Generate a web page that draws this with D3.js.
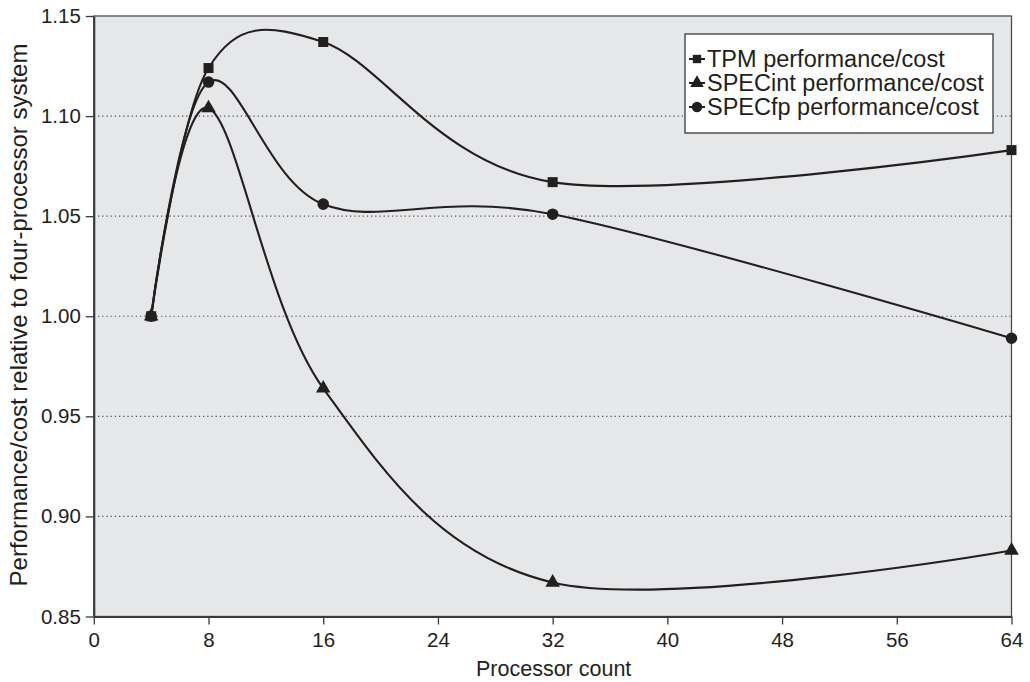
<!DOCTYPE html>
<html>
<head>
<meta charset="utf-8">
<script src="https://cdn.jsdelivr.net/npm/d3@7"></script>
<style>
  html, body { margin: 0; padding: 0; background: #ffffff; }
  svg { display: block; font-family: "Liberation Sans", Arial, Helvetica, sans-serif; }
</style>
</head>
<body>
<svg id="chart" width="1030" height="682"></svg>
<script>
// ---- data ----
const processors = [4, 8, 16, 32, 64];
const tpm     = [1.000, 1.124, 1.137, 1.067, 1.083];
const specInt = [1.000, 1.104, 0.964, 0.867, 0.883];
const specFp  = [1.000, 1.117, 1.056, 1.051, 0.989];
const seriesNames = ["TPM performance/cost", "SPECint performance/cost", "SPECfp performance/cost"];
const seriesMarkers = ["square", "triangle", "circle"];
const xTicks = [0, 8, 16, 24, 32, 40, 48, 56, 64];
const yTicks = [0.85, 0.90, 0.95, 1.00, 1.05, 1.10, 1.15];
const xTitle = "Processor count";
const yTitle = "Performance/cost relative to four-processor system";

const seriesValues = [tpm, specInt, specFp];

(function () {
// ---- layout ----
const svg = d3.select("#chart");
const pLeft = 93.8, pRight = 1011.5, pTop = 16, pBottom = 616.5;
const x = d3.scaleLinear().domain([0, 64]).range([pLeft, pRight]);
const y = d3.scaleLinear().domain([0.85, 1.15]).range([pBottom, pTop]);
const ink = "#231f20";

// plot background
svg.append("rect")
  .attr("x", pLeft).attr("y", pTop)
  .attr("width", pRight - pLeft).attr("height", pBottom - pTop)
  .attr("fill", "#e6e7e8")
  .attr("stroke", "#4d4d4f").attr("stroke-width", 1.3);

// dotted gridlines
svg.append("g").selectAll("line")
  .data(yTicks.filter(d => d > 0.85 && d < 1.15))
  .join("line")
  .attr("x1", pLeft).attr("x2", pRight)
  .attr("y1", d => y(d)).attr("y2", d => y(d))
  .attr("stroke", "#58595b").attr("stroke-width", 1.2)
  .attr("stroke-dasharray", "1.3,2.9");

// axes
const xAxis = d3.axisBottom(x).tickValues(xTicks).tickFormat(d3.format("d"))
  .tickSizeInner(8).tickSizeOuter(0).tickPadding(8);
const yAxis = d3.axisLeft(y).tickValues(yTicks).tickFormat(d3.format(".2f"))
  .tickSizeInner(8).tickSizeOuter(0).tickPadding(5);

const gx = svg.append("g").attr("transform", `translate(0,${pBottom})`).call(xAxis);
const gy = svg.append("g").attr("transform", `translate(${pLeft},0)`).call(yAxis);
[gx, gy].forEach(g => {
  g.select(".domain").attr("stroke", "#3a3a3c").attr("stroke-width", 2);
  g.selectAll(".tick line").attr("stroke", "#3a3a3c").attr("stroke-width", 1.3);
  g.selectAll(".tick text").attr("fill", ink)
    .attr("font-size", 20.5)
    .attr("font-family", "Liberation Sans, Arial, sans-serif");
});

// axis titles
svg.append("text")
  .attr("x", (x(0) + x(64)) / 2 + 1).attr("y", 676)
  .attr("text-anchor", "middle")
  .attr("font-size", 21.5).attr("fill", ink)
  .text(xTitle);
svg.append("text")
  .attr("transform", `translate(27,315) rotate(-90)`)
  .attr("text-anchor", "middle")
  .attr("font-size", 24).attr("fill", ink)
  .text(yTitle);

// lines
const line = d3.line()
  .x(d => x(d[0])).y(d => y(d[1]))
  .curve(d3.curveCardinal.tension(0));

const sym = {
  square: d3.symbol().type(d3.symbolSquare).size(100),
  triangle: d3.symbol().type(d3.symbolTriangle).size(92),
  circle: d3.symbol().type(d3.symbolCircle).size(105)
};
const symSmall = {
  square: d3.symbol().type(d3.symbolSquare).size(70),
  triangle: d3.symbol().type(d3.symbolTriangle).size(80),
  circle: d3.symbol().type(d3.symbolCircle).size(85)
};

const plot = svg.append("g");
seriesValues.forEach((vals, i) => {
  const pts = processors.map((p, j) => [p, vals[j]]);
  plot.append("path")
    .datum(pts)
    .attr("fill", "none")
    .attr("stroke", ink)
    .attr("stroke-width", 2.1)
    .attr("d", line);
});
seriesValues.forEach((vals, i) => {
  const pts = processors.map((p, j) => [p, vals[j]]);
  plot.append("g").selectAll("path")
    .data(pts)
    .join("path")
    .attr("transform", d => `translate(${x(d[0])},${y(d[1])})`)
    .attr("d", sym[seriesMarkers[i]]())
    .attr("fill", ink);
});

// legend
const lg = svg.append("g");
lg.append("rect")
  .attr("x", 685).attr("y", 34)
  .attr("width", 308).attr("height", 99)
  .attr("fill", "#ffffff")
  .attr("stroke", "#3a3a3c").attr("stroke-width", 1.3);
const rowY = [59, 83, 107];
seriesNames.forEach((name, i) => {
  const g = lg.append("g").attr("transform", `translate(0,${rowY[i]})`);
  g.append("line").attr("x1", 689).attr("x2", 705).attr("y1", 0).attr("y2", 0)
    .attr("stroke", ink).attr("stroke-width", 2);
  g.append("path")
    .attr("transform", `translate(697,0)`)
    .attr("d", symSmall[seriesMarkers[i]]())
    .attr("fill", ink);
  g.append("text")
    .attr("x", 707).attr("y", 0).attr("dy", "0.36em")
    .attr("font-size", 23.5).attr("fill", ink)
    .text(name);
});
})();
</script>
</body>
</html>
